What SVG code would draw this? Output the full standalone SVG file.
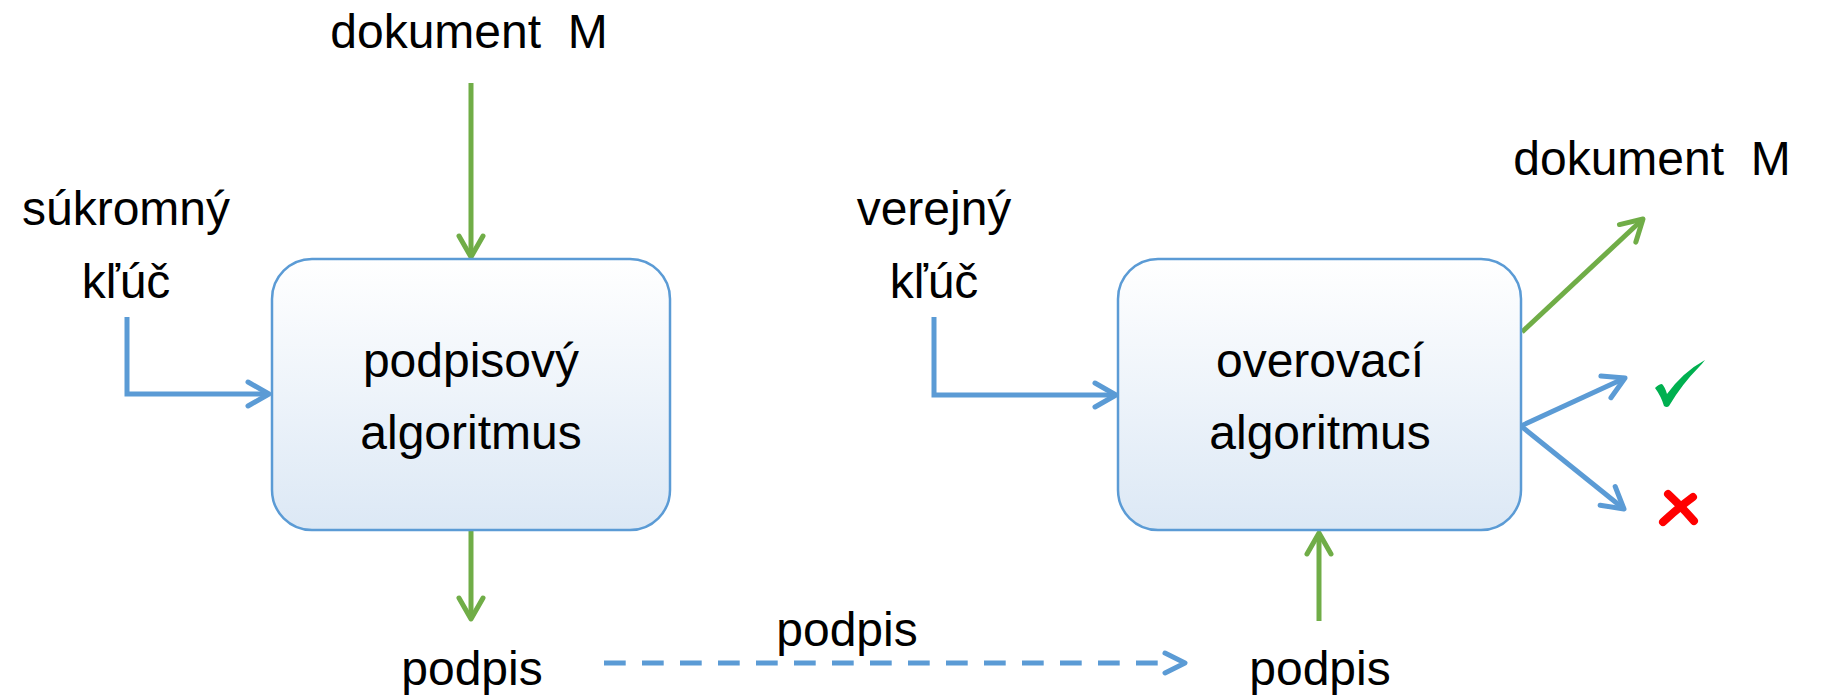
<svg xmlns="http://www.w3.org/2000/svg" width="1824" height="697" viewBox="0 0 1824 697">
  <defs>
    <linearGradient id="boxFill" x1="0" y1="0" x2="0" y2="1">
      <stop offset="0" stop-color="#FFFFFF"/>
      <stop offset="1" stop-color="#DCE8F5"/>
    </linearGradient>
    <marker id="ahG" markerUnits="userSpaceOnUse" markerWidth="40" markerHeight="40" viewBox="-30 -20 40 40" refX="0" refY="0" orient="auto" overflow="visible">
      <path d="M-21,-12 L0,0 L-21,12" fill="none" stroke="#70AD47" stroke-width="5" stroke-linecap="round" stroke-linejoin="round"/>
    </marker>
    <marker id="ahB" markerUnits="userSpaceOnUse" markerWidth="40" markerHeight="40" viewBox="-30 -20 40 40" refX="0" refY="0" orient="auto" overflow="visible">
      <path d="M-21,-12 L0,0 L-21,12" fill="none" stroke="#5B9BD5" stroke-width="5" stroke-linecap="round" stroke-linejoin="round"/>
    </marker>
  </defs>
  <style>
    .box { fill: url(#boxFill); stroke: #5B9BD5; stroke-width: 2.5; }
    .t { font-family: "Liberation Sans", Arial, sans-serif; font-size: 48px; fill: #000000; text-anchor: middle; }
    .g { fill: none; stroke: #70AD47; stroke-width: 5; marker-end: url(#ahG); }
    .b { fill: none; stroke: #5B9BD5; stroke-width: 5; marker-end: url(#ahB); }
    .d { fill: none; stroke: #5B9BD5; stroke-width: 5; stroke-dasharray: 21.7 16.3; }
    .dh { fill: none; stroke: #5B9BD5; stroke-width: 5; stroke-linecap: round; stroke-linejoin: round; }
  </style>
  <rect width="1824" height="697" fill="#FFFFFF"/>

  <g id="connectors">
    <path class="g" d="M471,83 L471,257"/>
    <path class="b" d="M127,317 L127,394 L269,394"/>
    <path class="g" d="M471,531 L471,619"/>
    <path class="d" d="M604,663 L1160,663"/>
    <path class="dh" d="M1165,653 L1185,663 L1165,673"/>
    <path class="g" d="M1319,621 L1319,533"/>
    <path class="b" d="M934,317 L934,395 L1116,395"/>
    <path class="g" d="M1522,332 L1643,219"/>
    <path class="b" d="M1521,426 L1625,378"/>
    <path class="b" d="M1521,426 L1624,509"/>
  </g>

  <g id="node-signing">
    <rect class="box" x="272" y="259" width="398" height="271" rx="40" ry="40"/>
    <text class="t" x="471" y="377">podpisový</text>
    <text class="t" x="471" y="449">algoritmus</text>
  </g>

  <g id="node-verifying">
    <rect class="box" x="1118" y="259" width="403" height="271" rx="40" ry="40"/>
    <text class="t" x="1320" y="377">overovací</text>
    <text class="t" x="1320" y="449">algoritmus</text>
  </g>

  <g id="label-doc-in">
    <text class="t" x="469" y="48" xml:space="preserve">dokument  M</text>
  </g>
  <g id="label-private-key">
    <text class="t" x="126" y="225">súkromný</text>
    <text class="t" x="126" y="298">kľúč</text>
  </g>
  <g id="label-public-key">
    <text class="t" x="934" y="225">verejný</text>
    <text class="t" x="934" y="298">kľúč</text>
  </g>
  <g id="label-doc-out">
    <text class="t" x="1652" y="175" xml:space="preserve">dokument  M</text>
  </g>
  <g id="label-sig-out">
    <text class="t" x="472" y="685">podpis</text>
  </g>
  <g id="label-sig-transfer">
    <text class="t" x="847" y="646">podpis</text>
  </g>
  <g id="label-sig-in">
    <text class="t" x="1320" y="685">podpis</text>
  </g>

  <g id="result-ok">
    <path d="M1655,388 Q1659,384 1662,384 Q1665,387 1667,394 Q1683,372 1705,360 Q1702,364 1699,367 Q1682,384 1669,406 Q1667,408 1664,406 Q1661,396 1655,388 Z" fill="#00B050"/>
  </g>
  <g id="result-fail">
    <path d="M1668,494 Q1680,505 1694,521" fill="none" stroke="#FF0000" stroke-width="8" stroke-linecap="round"/>
    <path d="M1693,497 Q1678,508 1663,522" fill="none" stroke="#FF0000" stroke-width="8" stroke-linecap="round"/>
  </g>
</svg>
